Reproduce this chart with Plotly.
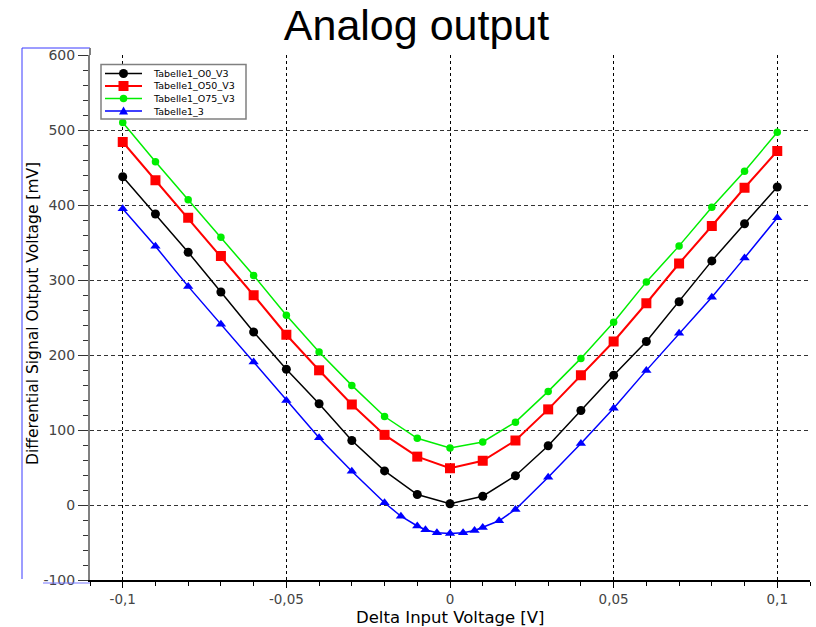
import plotly.graph_objects as go

# ---------------- data ----------------
x_main = [-0.1, -0.09, -0.08, -0.07, -0.06, -0.05, -0.04, -0.03, -0.02, -0.01, 0.0,
          0.01, 0.02, 0.03, 0.04, 0.05, 0.06, 0.07, 0.08, 0.09, 0.1]
y_o0 = [437.6, 388, 337, 284, 230.7, 181, 135, 86, 45.5, 14, 1.6,
        11.7, 39, 79, 126, 173, 218, 271, 325.5, 375, 424]
y_o50 = [484, 433, 383, 332, 279.7, 227, 179.6, 134, 93.5, 64.5, 49,
         59, 86, 127.5, 173, 218, 269, 322, 372, 423, 472]
y_o75 = [510, 457.6, 407, 357, 306, 253, 204, 159.5, 118, 89, 76,
         84, 110.5, 151.5, 195.5, 243.7, 297.5, 345.5, 397, 445, 497]
x_t3 = [-0.1, -0.09, -0.08, -0.07, -0.06, -0.05, -0.04, -0.03, -0.02,
        -0.015, -0.01, -0.0075, -0.004, 0.0, 0.004, 0.0075, 0.01, 0.015,
        0.02, 0.03, 0.04, 0.05, 0.06, 0.07, 0.08, 0.09, 0.1]
y_t3 = [395, 345, 291.5, 241, 190.6, 139.5, 89.7, 45, 3,
        -15, -28, -33, -37, -38, -37, -34, -30, -21,
        -6, 37, 82, 129, 179.5, 229, 277, 329.5, 383]

series_names = ["Tabelle1_O0_V3", "Tabelle1_O50_V3", "Tabelle1_O75_V3", "Tabelle1_3"]

x_tickvals = [-0.1, -0.05, 0, 0.05, 0.1]
x_ticktext = ["-0,1", "-0,05", "0", "0,05", "0,1"]
y_tickvals = [-100, 0, 100, 200, 300, 400, 500, 600]
y_ticktext = ["-100", "0", "100", "200", "300", "400", "500", "600"]

title_text = "Analog output"
x_title = "Delta Input Voltage [V]"
y_title = "Differential Signal Output Voltage [mV]"

# ---------------- layout geometry ----------------
W, H = 816, 627
ML, MR, MT, MB = 90, 6, 55, 47
PW, PH = W - ML - MR, H - MT - MB


def px_x(px):
    return (px - ML) / PW


def px_y(py):
    return (H - MB - py) / PH


FONT = "DejaVu Sans, Verdana, sans-serif"

styles = [
    dict(color="#000000", symbol="circle", size=9, width=1.5),
    dict(color="#ff0000", symbol="square", size=10, width=2),
    dict(color="#00ee00", symbol="circle", size=7.5, width=1.5),
    dict(color="#0000ff", symbol="triangle-up", size=9, width=1.5),
]

fig = go.Figure()
xs = [x_main, x_main, x_main, x_t3]
ys = [y_o0, y_o50, y_o75, y_t3]
for name, xv, yv, st in zip(series_names, xs, ys, styles):
    fig.add_trace(go.Scatter(
        x=xv, y=yv, name=name, mode="lines+markers",
        line=dict(color=st["color"], width=st["width"]),
        marker=dict(color=st["color"], symbol=st["symbol"], size=st["size"],
                    line=dict(width=0)),
        showlegend=False,
    ))

shapes = []
annotations = []

# custom compact legend
lg_x0, lg_x1, lg_y0, lg_y1 = 101, 246, 64.5, 119
shapes.append(dict(type="rect", xref="paper", yref="paper", layer="above",
                   x0=px_x(lg_x0), x1=px_x(lg_x1), y0=px_y(lg_y1), y1=px_y(lg_y0),
                   fillcolor="white", line=dict(color="#808080", width=1.5)))
row_y = [73.5, 86, 98.5, 111]
for name, st, ry in zip(series_names, styles, row_y):
    yy = px_y(ry)
    shapes.append(dict(type="line", xref="paper", yref="paper", layer="above",
                       x0=px_x(105), x1=px_x(142), y0=yy, y1=yy,
                       line=dict(color=st["color"], width=st["width"])))
    xa = px_x(123.5)
    r = st["size"] / 2
    if st["symbol"] == "circle":
        shapes.append(dict(type="circle", xref="paper", yref="paper", layer="above",
                           xsizemode="pixel", ysizemode="pixel", xanchor=xa, yanchor=yy,
                           x0=-r, x1=r, y0=-r, y1=r, fillcolor=st["color"],
                           line=dict(width=0)))
    elif st["symbol"] == "square":
        shapes.append(dict(type="rect", xref="paper", yref="paper", layer="above",
                           xsizemode="pixel", ysizemode="pixel", xanchor=xa, yanchor=yy,
                           x0=-r, x1=r, y0=-r, y1=r, fillcolor=st["color"],
                           line=dict(width=0)))
    else:
        shapes.append(dict(type="path", xref="paper", yref="paper", layer="above",
                           xsizemode="pixel", ysizemode="pixel", xanchor=xa, yanchor=yy,
                           path="M-4.5,-3.5 L4.5,-3.5 L0,4.5 Z", fillcolor=st["color"],
                           line=dict(width=0)))
    annotations.append(dict(xref="paper", yref="paper", x=px_x(151), y=yy,
                            xanchor="left", yanchor="middle", showarrow=False,
                            text=name, font=dict(family=FONT, size=9.5, color="#000")))

# blue selection frame on the left (as in the reference)
sel = "#3a3aff"
shapes += [
    dict(type="line", xref="paper", yref="paper", x0=px_x(22), x1=px_x(22),
         y0=px_y(48), y1=px_y(579), line=dict(color=sel, width=1)),
    dict(type="line", xref="paper", yref="paper", x0=px_x(22), x1=px_x(90),
         y0=px_y(48), y1=px_y(48), line=dict(color=sel, width=1)),
    dict(type="line", xref="paper", yref="paper", x0=px_x(43), x1=px_x(90),
         y0=px_y(583), y1=px_y(583), line=dict(color="#7777ff", width=1)),
    dict(type="line", xref="paper", yref="paper", x0=0, x1=0,
         y0=px_y(48), y1=1, line=dict(color="#808080", width=2)),
]

# axis titles
annotations.append(dict(xref="paper", yref="paper", x=px_x(450), y=px_y(617.5),
                        xanchor="center", yanchor="middle", showarrow=False,
                        text=x_title, font=dict(family=FONT, size=16.5, color="#000")))
annotations.append(dict(xref="paper", yref="paper", x=px_x(33), y=px_y(314),
                        xanchor="center", yanchor="middle", showarrow=False, textangle=-90,
                        text=y_title, font=dict(family=FONT, size=15.5, color="#000")))

fig.update_layout(
    width=W, height=H,
    margin=dict(l=ML, r=MR, t=MT, b=MB, pad=0),
    paper_bgcolor="white", plot_bgcolor="white",
    title=dict(text=title_text, x=416.5 / W, xref="container", xanchor="center",
               y=1 - 25 / H, yref="container", yanchor="middle",
               font=dict(family="Liberation Sans, Arial, sans-serif", size=43, color="#000")),
    showlegend=False,
    shapes=shapes,
    annotations=annotations,
)

fig.update_xaxes(
    range=[-0.11, 0.11], tickmode="array", tickvals=x_tickvals, ticktext=x_ticktext,
    ticks="outside", ticklen=6, tickwidth=1, tickcolor="#000",
    tickfont=dict(family=FONT, size=13.5, color="#444"),
    showline=True, linecolor="#000", linewidth=1.5,
    showgrid=True, gridcolor="#000", griddash="3px,3px", gridwidth=1,
    zeroline=False,
    minor=dict(tickmode="linear", tick0=0, dtick=0.01, ticks="outside", ticklen=4,
               tickcolor="#000", showgrid=False),
)
fig.update_yaxes(
    range=[-100, 600], tickmode="array", tickvals=y_tickvals, ticktext=y_ticktext,
    ticks="outside", ticklen=10, tickwidth=1, tickcolor="#333",
    tickfont=dict(family=FONT, size=14, color="#444"),
    showline=True, linecolor="#808080", linewidth=2,
    showgrid=True, gridcolor="#333", griddash="4px,3px", gridwidth=1,
    zeroline=False,
    minor=dict(tickmode="linear", tick0=0, dtick=20, ticks="outside", ticklen=5,
               tickcolor="#333", showgrid=False),
)

fig.write_html("out.html")
